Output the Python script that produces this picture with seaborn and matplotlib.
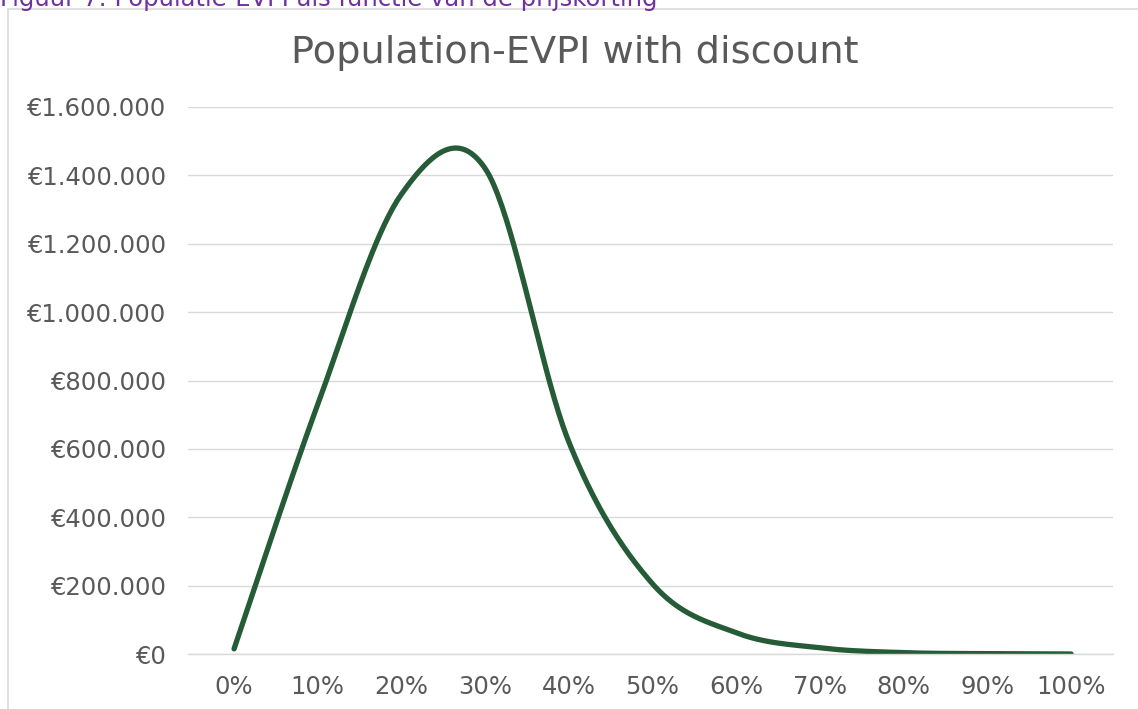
import matplotlib
matplotlib.use("Agg")
import matplotlib.pyplot as plt
from matplotlib.patches import Rectangle
from matplotlib.ticker import FuncFormatter, MultipleLocator
import numpy as np
import pandas as pd
import seaborn as sns

# Discount level (%) and population EVPI (EUR)
discount_pct = [0, 10, 20, 30, 40, 50, 60, 70, 80, 90, 100]
evpi_eur = [15000, 730000, 1345000, 1420000, 620000, 205000, 62000, 18000,
            4000, 1000, 0]

title = "Population-EVPI with discount"
caption = "Figuur 7: Populatie-EVPI als functie van de prijskorting"
x_ticks = list(range(0, 101, 10))


def smooth_curve(xs, ys, steps=40):
    """Smoothed line through the points (cubic Bezier segments, Catmull-Rom tangents)."""
    x = np.asarray(xs, float)
    y = np.asarray(ys, float)
    n = len(x)
    out_x, out_y = [x[0]], [y[0]]
    t = np.linspace(0, 1, steps + 1)[1:]
    for i in range(n - 1):
        i0, i3 = max(i - 1, 0), min(i + 2, n - 1)
        c1x = x[i] + (x[i + 1] - x[i0]) / 6
        c1y = y[i] + (y[i + 1] - y[i0]) / 6
        c2x = x[i + 1] - (x[i3] - x[i]) / 6
        c2y = y[i + 1] - (y[i3] - y[i]) / 6
        b0, b1, b2, b3 = (1 - t) ** 3, 3 * (1 - t) ** 2 * t, 3 * (1 - t) * t ** 2, t ** 3
        out_x.extend(b0 * x[i] + b1 * c1x + b2 * c2x + b3 * x[i + 1])
        out_y.extend(b0 * y[i] + b1 * c1y + b2 * c2y + b3 * y[i + 1])
    return np.array(out_x), np.array(out_y)


sns.set_theme(style="white")
plt.rcParams["font.family"] = ["DejaVu Sans"]

sx, sy = smooth_curve(discount_pct, evpi_eur)
df = pd.DataFrame({"discount": sx, "evpi": sy})

fig = plt.figure(figsize=(11.38, 7.09), dpi=100)
ax = fig.add_axes([188 / 1138, 1 - 654 / 709, (1113 - 188) / 1138, (654 - 107) / 709])

sns.lineplot(data=df, x="discount", y="evpi", ax=ax, color="#255C37",
             linewidth=3.8, sort=False, solid_capstyle="round",
             solid_joinstyle="round")

ax.set_xlim(-5.5, 105)
ax.set_ylim(0, 1_600_000)
ax.set_xticks(x_ticks)
ax.set_xticklabels([f"{v}%" for v in x_ticks])
ax.yaxis.set_major_locator(MultipleLocator(200_000))


def euro(v, _pos):
    return "€" + f"{int(round(v)):,}".replace(",", ".")


ax.yaxis.set_major_formatter(FuncFormatter(euro))
ax.grid(axis="y", color="#D9D9D9", linewidth=1.0)
ax.set_axisbelow(True)
for side in ["top", "right", "left"]:
    ax.spines[side].set_visible(False)
ax.spines["bottom"].set_color("#D9D9D9")
ax.spines["bottom"].set_linewidth(1.0)
ax.tick_params(axis="both", length=0, labelsize=17.5, labelcolor="#595959")
ax.tick_params(axis="y", pad=16)
ax.tick_params(axis="x", pad=15)
ax.set_xlabel("")
ax.set_ylabel("")

fig.text(575 / 1138, 1 - 53 / 709, title, ha="center", va="center",
         fontsize=27.5, color="#595959")

# Chart frame and the document caption above it
fig.patches.append(Rectangle((8 / 1138, -0.05), 1.2, 1 - 9 / 709 + 0.05,
                             transform=fig.transFigure, fill=False,
                             edgecolor="#D9D9D9", linewidth=1.2))
fig.text(0, 1 - 6 / 709, caption, ha="left", va="baseline",
         fontsize=17.5, color="#7030A0")

fig.savefig("out.png", dpi=100)
